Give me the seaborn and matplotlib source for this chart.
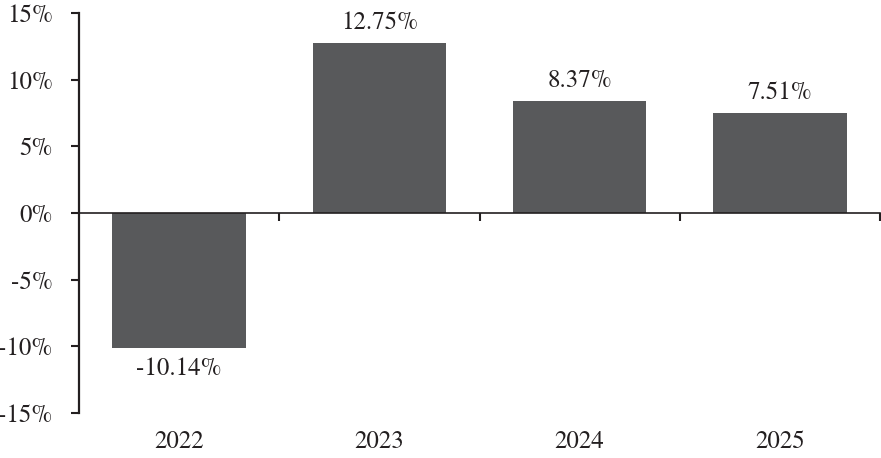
import matplotlib
matplotlib.use("Agg")
import matplotlib.pyplot as plt
from matplotlib.ticker import FixedLocator, FuncFormatter
import seaborn as sns
import pandas as pd

years = ["2022", "2023", "2024", "2025"]
returns = [-10.14, 12.75, 8.37, 7.51]
yticks = [-15, -10, -5, 0, 5, 10, 15]

sns.set_theme(style="white")
plt.rcParams["font.family"] = ["TeX Gyre Termes", "STIXGeneral", "DejaVu Serif"]
plt.rcParams["font.size"] = 18

df = pd.DataFrame({"year": years, "ret": returns})

fig = plt.figure(figsize=(8.81, 4.58), dpi=100)
ax = fig.add_axes([79 / 881, 45 / 458, 801 / 881, 400 / 458])

sns.barplot(data=df, x="year", y="ret", color="#58595b", saturation=1,
            width=0.667, ax=ax, edgecolor="none")

ax.set_xlim(-0.5, 3.5)
ax.set_ylim(-15, 15)
ax.set_yticks(yticks)
ax.yaxis.set_major_formatter(FuncFormatter(lambda v, p: f"{v:.0f}%"))
ax.tick_params(axis="y", direction="out", length=6, width=1.5, pad=13,
               left=True, colors="#231f20", labelsize=18)
ax.set_xlabel("")
ax.set_ylabel("")

for s in ["top", "right"]:
    ax.spines[s].set_visible(False)
ax.spines["left"].set_linewidth(1.6)
ax.spines["left"].set_color("#231f20")
ax.spines["bottom"].set_position(("data", 0))
ax.spines["bottom"].set_linewidth(1.2)
ax.spines["bottom"].set_color("#231f20")

ax.set_xticks([0, 1, 2, 3])
ax.set_xticklabels([])
ax.tick_params(axis="x", which="major", length=0, bottom=True)
ax.xaxis.set_minor_locator(FixedLocator([0.5, 1.5, 2.5, 3.5]))
ax.tick_params(axis="x", which="minor", direction="out", length=6,
               width=1.5, bottom=True, colors="#231f20")

sec = ax.secondary_xaxis("bottom")
sec.set_xticks([0, 1, 2, 3])
sec.set_xticklabels(years)
sec.tick_params(length=0, pad=12, labelsize=18, colors="#231f20")
sec.spines["bottom"].set_visible(False)

for c in ax.containers:
    ax.bar_label(c, labels=[f"{v:.2f}%" for v in returns], padding=6,
                 fontsize=18, color="#231f20")

fig.savefig("out.png", dpi=100)
